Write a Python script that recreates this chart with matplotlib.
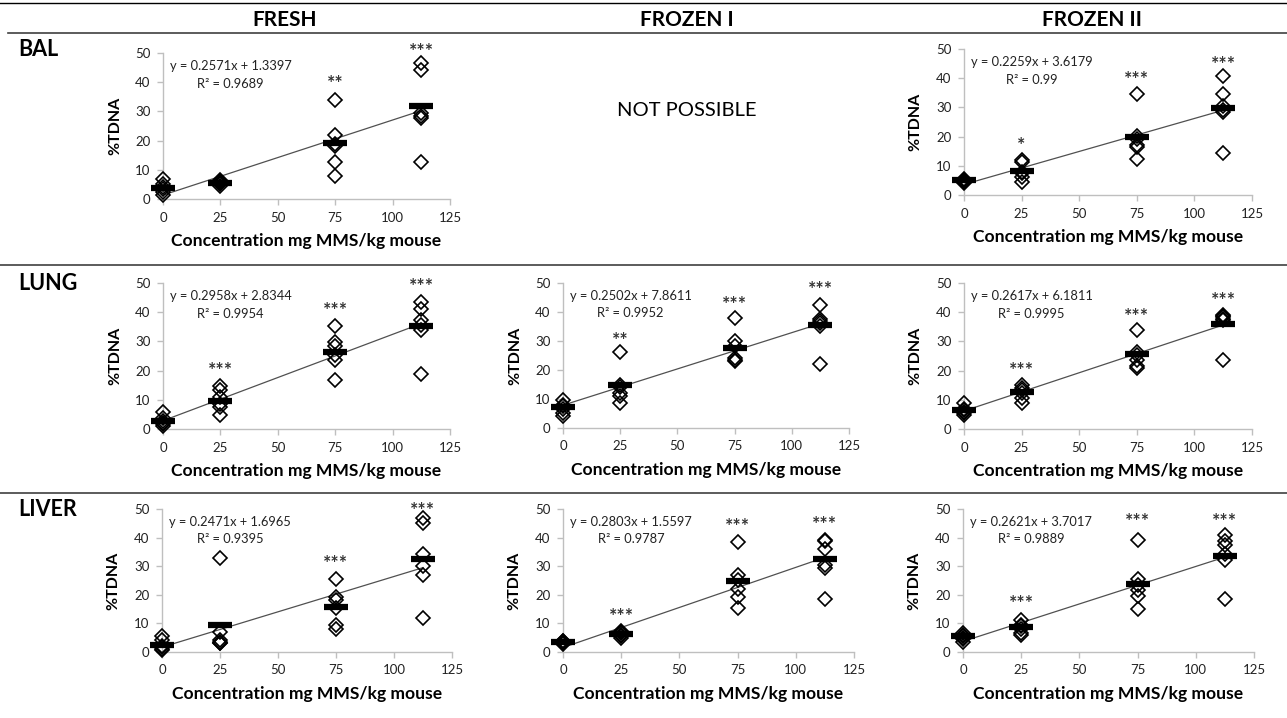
import matplotlib
matplotlib.use("Agg")
import matplotlib.pyplot as plt
from matplotlib.lines import Line2D

plt.rcParams['font.family'] = ['Lato', 'DejaVu Sans']

W, H = 1287, 718

doses = [0, 25, 75, 112.5]
columns = ["FRESH", "FROZEN I", "FROZEN II"]
rows = ["BAL", "LUNG", "LIVER"]
x_ticks = [0, 25, 50, 75, 100, 125]
y_ticks = [0, 10, 20, 30, 40, 50]

# %TDNA per animal, one list per dose (0, 25, 75, 112.5)
bal_fresh_pts = [[6.7, 5.0, 4.0, 3.5, 2.5, 1.5], [6.5, 6.0, 5.5, 5.0, 4.5, 5.8],
                 [34.0, 22.0, 19.0, 18.0, 12.6, 8.0], [46.6, 44.3, 29.4, 28.5, 27.7, 12.6]]
bal_fresh_mean = [3.9, 5.6, 19.1, 31.9]
bal_fresh_fit = (0.2571, 1.3397, 0.9689)
bal_fresh_stars = ["", "", "**", "***"]
bal_fresh_star_y = [0, 0, 41, 52]

bal_fz2_pts = [[5.5, 5.0, 4.5, 4.2, 5.3, 4.8], [12.0, 11.2, 7.5, 6.0, 4.5, 8.0],
               [34.6, 20.3, 19.1, 16.6, 12.4, 17.0], [40.6, 34.6, 30.5, 29.2, 28.5, 14.5]]
bal_fz2_mean = [5.1, 8.2, 20.0, 29.7]
bal_fz2_fit = (0.2259, 3.6179, 0.99)
bal_fz2_stars = ["", "*", "***", "***"]
bal_fz2_star_y = [0, 18.3, 41.2, 46.3]

lung_fresh_pts = [[5.8, 3.8, 2.6, 2.2, 1.6, 1.0], [14.8, 13.4, 11.1, 8.6, 7.7, 4.8],
                  [35.4, 29.7, 28.3, 25.4, 23.5, 16.8], [43.4, 41.2, 37.4, 35.7, 33.8, 18.9]]
lung_fresh_mean = [2.9, 9.6, 26.5, 35.4]
lung_fresh_fit = (0.2958, 2.8344, 0.9954)
lung_fresh_stars = ["", "***", "***", "***"]
lung_fresh_star_y = [0, 21.4, 42, 50.2]

lung_fz1_pts = [[9.8, 8.0, 7.5, 6.5, 5.2, 4.0], [26.2, 14.9, 14.0, 12.1, 10.9, 8.6],
                [37.9, 29.9, 28.2, 24.1, 23.5, 23.0], [42.3, 37.7, 36.8, 36.2, 35.3, 22.1]]
lung_fz1_mean = [7.1, 14.7, 27.6, 35.4]
lung_fz1_fit = (0.2502, 7.8611, 0.9952)
lung_fz1_stars = ["", "**", "***", "***"]
lung_fz1_star_y = [0, 31.8, 44, 49.4]

lung_fz2_pts = [[8.8, 7.0, 6.5, 5.8, 5.4, 4.8], [15.1, 14.0, 13.2, 12.4, 10.5, 8.8],
                [33.8, 26.5, 25.4, 23.5, 21.6, 20.8], [39.1, 38.6, 38.2, 37.4, 37.8, 23.7]]
lung_fz2_mean = [6.5, 12.6, 25.7, 36.0]
lung_fz2_fit = (0.2617, 6.1811, 0.9995)
lung_fz2_stars = ["", "***", "***", "***"]
lung_fz2_star_y = [0, 21.4, 39.9, 45.4]

liver_fresh_pts = [[5.5, 4.3, 2.0, 1.8, 1.2, 0.6], [33.0, 7.0, 4.1, 3.5, 3.2, 3.2],
                   [25.5, 19.3, 18.1, 15.5, 9.4, 8.0], [46.8, 45.1, 34.3, 29.9, 26.9, 11.9]]
liver_fresh_mean = [2.3, 9.4, 15.8, 32.6]
liver_fresh_fit = (0.2471, 1.6965, 0.9395)
liver_fresh_stars = ["", "", "***", "***"]
liver_fresh_star_y = [0, 0, 32.4, 50.9]

liver_fz1_pts = [[4.0, 3.8, 3.5, 3.2, 3.0, 2.8], [7.5, 7.0, 6.5, 6.0, 5.5, 5.0],
                 [38.4, 26.9, 25.1, 22.2, 19.3, 15.3], [39.2, 38.7, 35.9, 30.3, 29.2, 18.4]]
liver_fz1_mean = [3.4, 6.2, 24.8, 32.4]
liver_fz1_fit = (0.2803, 1.5597, 0.9787)
liver_fz1_stars = ["", "***", "***", "***"]
liver_fz1_star_y = [0, 13.8, 45.4, 46.2]

liver_fz2_pts = [[6.5, 6.0, 5.5, 5.0, 4.5, 3.5], [11.1, 9.5, 9.0, 8.0, 6.6, 6.1],
                 [39.3, 25.5, 23.5, 21.8, 19.5, 15.0], [41.0, 38.9, 37.5, 34.4, 32.3, 18.6]]
liver_fz2_mean = [5.5, 8.6, 23.9, 33.7]
liver_fz2_fit = (0.2621, 3.7017, 0.9889)
liver_fz2_stars = ["", "***", "***", "***"]
liver_fz2_star_y = [0, 18.3, 47.2, 47.2]


def px_rect(left, right, top, bottom):
    return [left / W, 1 - bottom / H, (right - left) / W, (bottom - top) / H]


def hline(fig, y, x0=0, x1=W, color='#404040', lw=1.2):
    fig.add_artist(Line2D([x0 / W, x1 / W], [1 - y / H, 1 - y / H],
                          transform=fig.transFigure, color=color, lw=lw))


def draw_panel(fig, rect, pts, means, fit, stars, star_y):
    ax = fig.add_axes(px_rect(*rect))
    slope, icpt, r2 = fit
    ax.plot([doses[0], doses[-1]], [icpt, slope * doses[-1] + icpt],
            color='#505050', lw=0.9, zorder=2)
    for d, vals in zip(doses, pts):
        ax.plot([d] * len(vals), vals, ls='none', marker='D', ms=7,
                mfc='none', mec='black', mew=1.2, clip_on=False, zorder=3)
    ax.plot(doses, means, ls='none', marker='_', ms=17, mew=4.5,
            color='black', clip_on=False, zorder=4)
    for d, s, y in zip(doses, stars, star_y):
        if s:
            ax.text(d, y - 1.5, s, ha='center', va='center', fontsize=14,
                    fontweight='bold', color='#333333', clip_on=False)
    ax.text(0.025, 0.91, f"y = {slope:.4f}x + {icpt:.4f}", transform=ax.transAxes,
            ha='left', va='center', fontsize=9.3, color='#222222')
    ax.text(0.235, 0.79, f"R\u00b2 = {r2:g}", transform=ax.transAxes,
            ha='center', va='center', fontsize=9.3, color='#222222')

    ax.set_xlim(0, 125)
    ax.set_ylim(0, 50)
    ax.set_xticks(x_ticks)
    ax.set_yticks(y_ticks)
    for side in ['top', 'right']:
        ax.spines[side].set_visible(False)
    for side in ['left', 'bottom']:
        ax.spines[side].set_color('#bfbfbf')
        ax.spines[side].set_linewidth(1)
    ax.tick_params(direction='out', length=4, width=1, color='#bfbfbf',
                   labelsize=9.5, labelcolor='#222222', pad=5)
    ax.set_ylabel('%TDNA', fontsize=11.5, fontweight='bold')
    ax.yaxis.set_label_coords(-0.143, 0.5)
    ax.set_xlabel('Concentration mg MMS/kg mouse', fontsize=12.6, fontweight='bold',
                  labelpad=7)
    ax.patch.set_alpha(0)
    return ax


fig = plt.figure(figsize=(W / 100, H / 100), dpi=100)

# header and separator lines
hline(fig, 3, color='black', lw=1.0)
hline(fig, 33, x0=8)
hline(fig, 265)
hline(fig, 493)

title_x = [285, 687, 1092]
for name, x in zip(columns, title_x):
    fig.text(x / W, 1 - 20 / H, name, ha='center', va='center',
             fontsize=15, fontweight='bold')

row_y = [50, 284, 510]
for name, y in zip(rows, row_y):
    fig.text(18 / W, 1 - y / H, name, ha='left', va='center',
             fontsize=15.5, fontweight='bold')

draw_panel(fig, (163, 450, 53, 199), bal_fresh_pts, bal_fresh_mean, bal_fresh_fit,
           bal_fresh_stars, bal_fresh_star_y)
fig.text(687 / W, 1 - 110 / H, 'NOT POSSIBLE', ha='center', va='center', fontsize=14.5)
draw_panel(fig, (964, 1252, 49, 195), bal_fz2_pts, bal_fz2_mean, bal_fz2_fit,
           bal_fz2_stars, bal_fz2_star_y)

draw_panel(fig, (163, 450, 283, 429), lung_fresh_pts, lung_fresh_mean, lung_fresh_fit,
           lung_fresh_stars, lung_fresh_star_y)
draw_panel(fig, (563, 849, 283, 428), lung_fz1_pts, lung_fz1_mean, lung_fz1_fit,
           lung_fz1_stars, lung_fz1_star_y)
draw_panel(fig, (964, 1252, 283, 429), lung_fz2_pts, lung_fz2_mean, lung_fz2_fit,
           lung_fz2_stars, lung_fz2_star_y)

draw_panel(fig, (162, 452, 509, 652), liver_fresh_pts, liver_fresh_mean, liver_fresh_fit,
           liver_fresh_stars, liver_fresh_star_y)
draw_panel(fig, (563, 854, 509, 652), liver_fz1_pts, liver_fz1_mean, liver_fz1_fit,
           liver_fz1_stars, liver_fz1_star_y)
draw_panel(fig, (963, 1254, 509, 652), liver_fz2_pts, liver_fz2_mean, liver_fz2_fit,
           liver_fz2_stars, liver_fz2_star_y)

fig.savefig('out.png', dpi=100)
